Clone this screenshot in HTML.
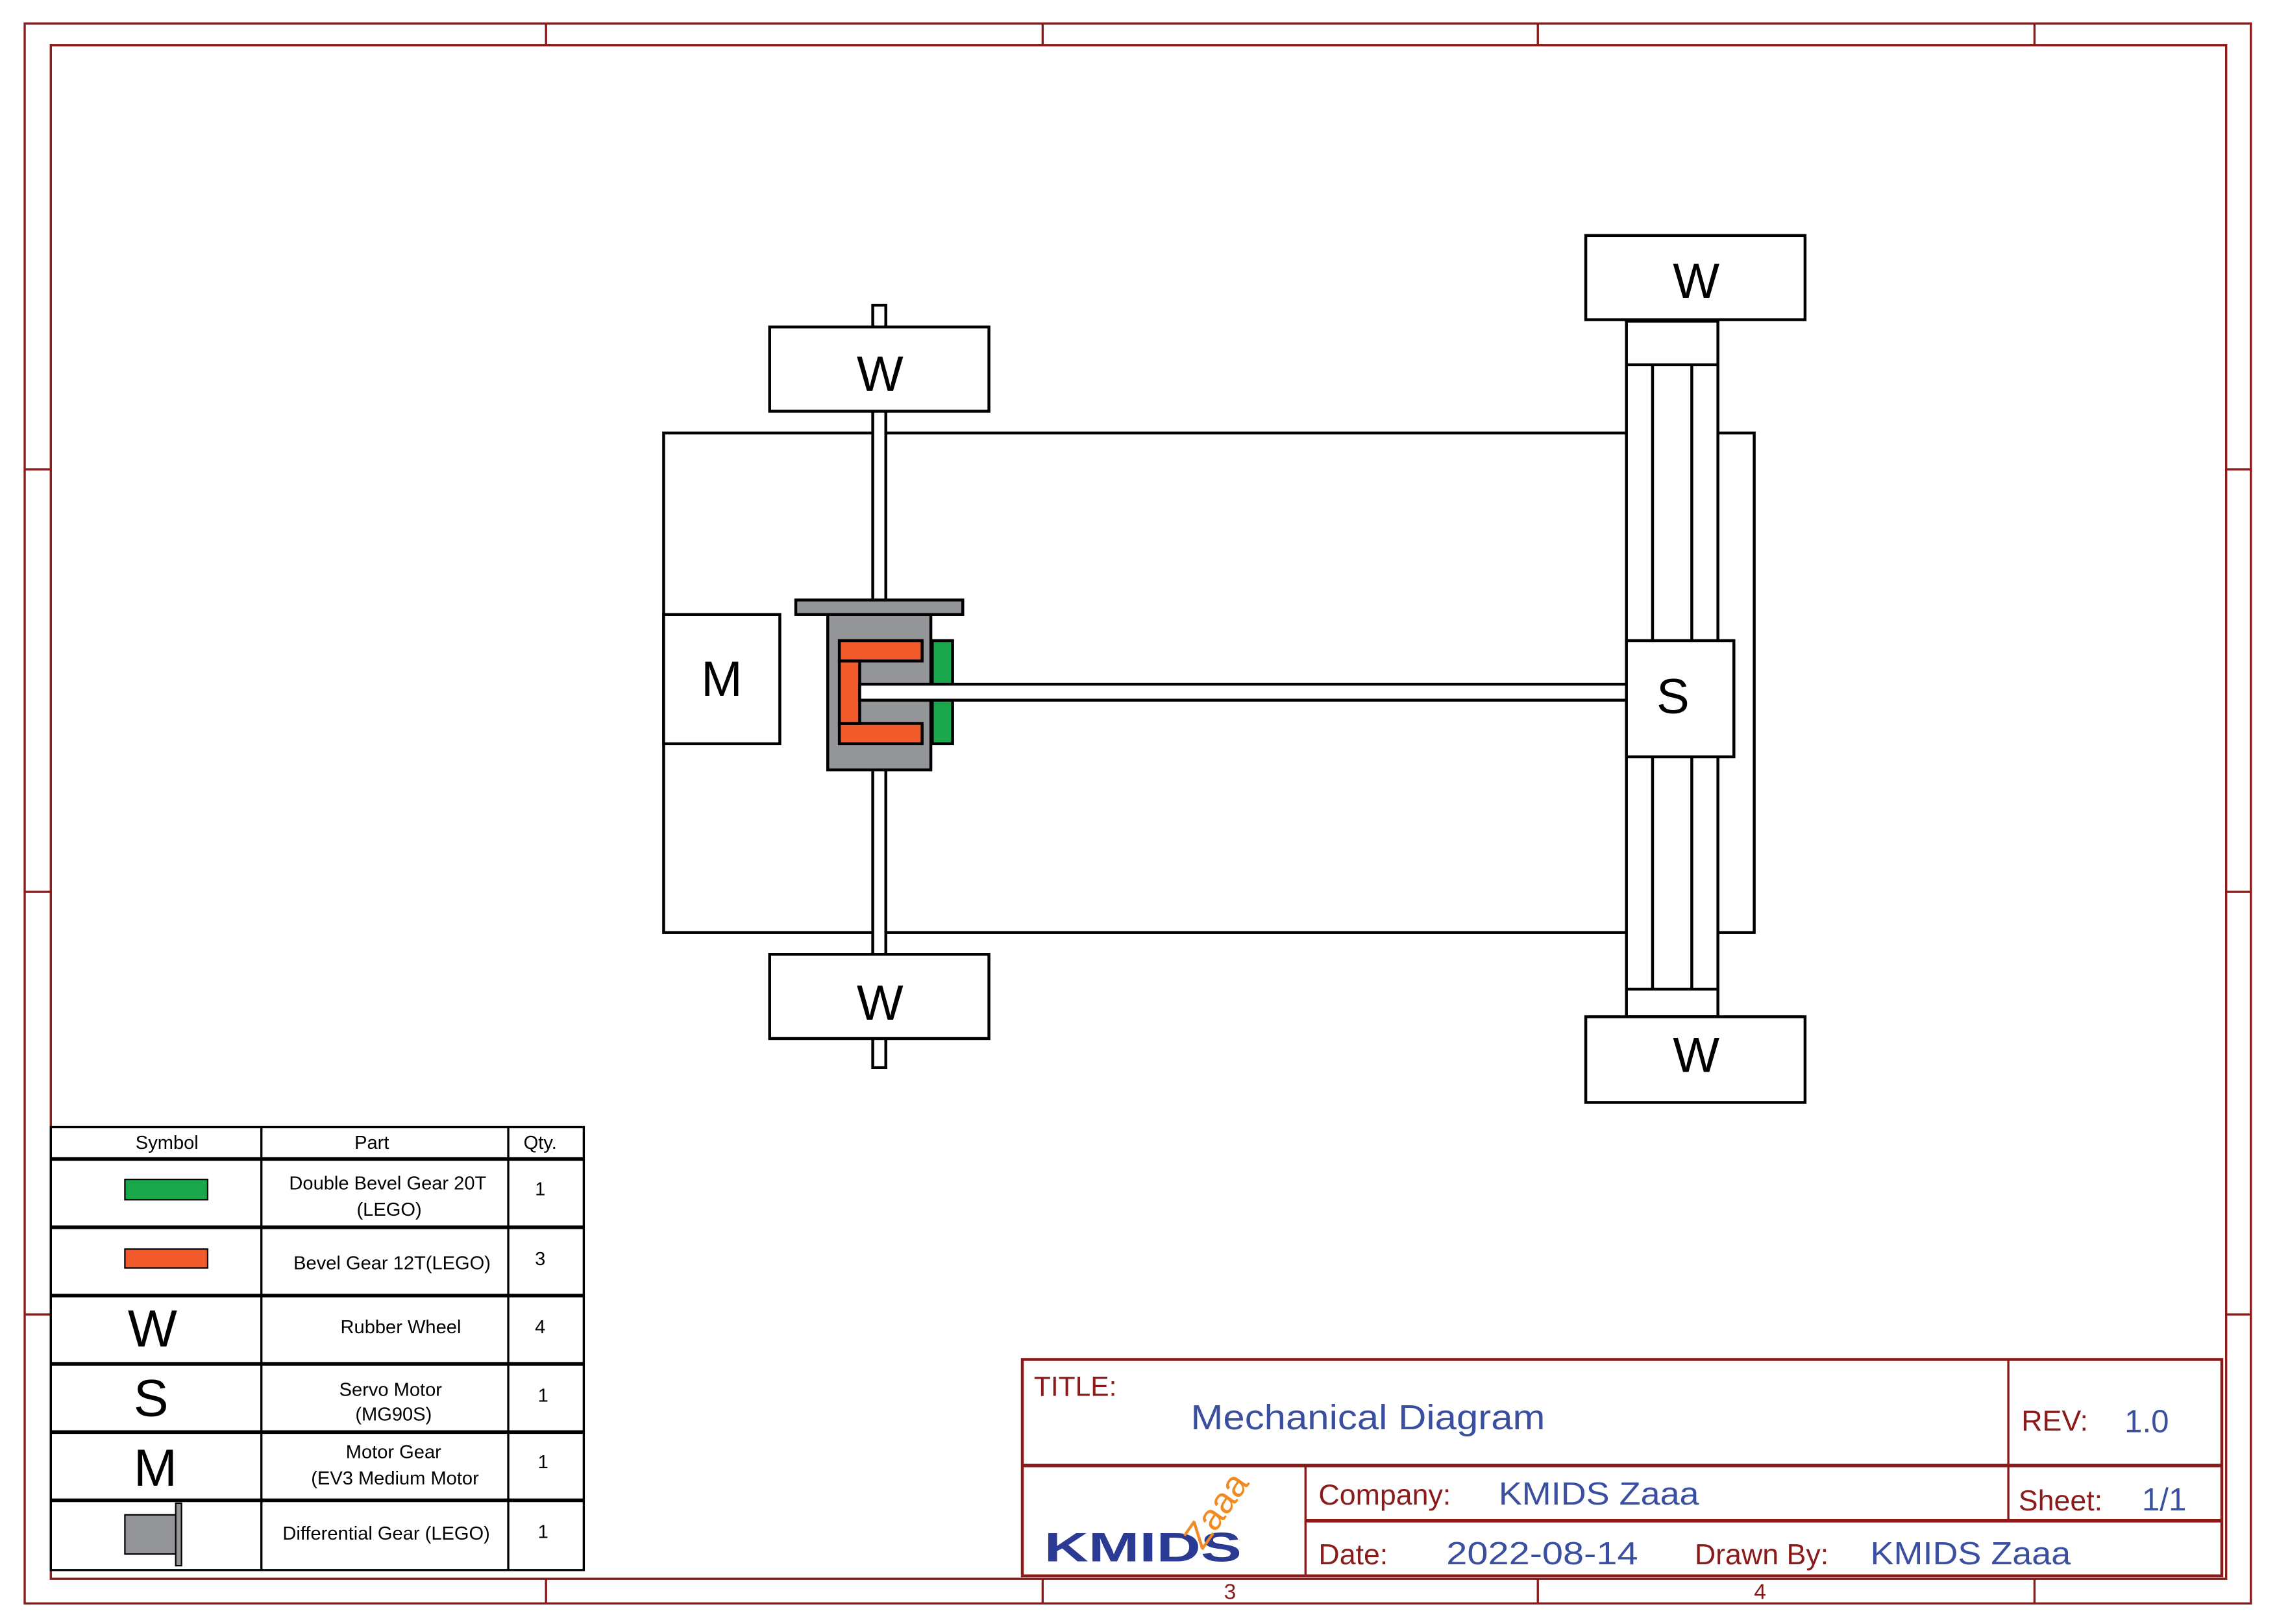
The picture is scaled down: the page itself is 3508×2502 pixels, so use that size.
<!DOCTYPE html>
<html><head><meta charset="utf-8"><style>
html,body{margin:0;padding:0;background:#fff;}
svg{display:block;}
text{font-family:"Liberation Sans",sans-serif;}
</style></head><body>
<svg width="3508" height="2502" viewBox="0 0 1568 1118" xmlns="http://www.w3.org/2000/svg">
<rect width="1568" height="1118" fill="#fff"/>
<g fill="none" stroke="#8b1a1a" stroke-width="1.5">
<rect x="17" y="16" width="1533" height="1088"/>
<rect x="35" y="31" width="1498" height="1056"/>
<path d="M376 16V31M718 16V31M1059 16V31M1401 16V31M376 1087V1104M718 1087V1104M1059 1087V1104M1401 1087V1104M17 323H35M17 614H35M17 905H35M1533 323H1550M1533 614H1550M1533 905H1550"/>
</g>
<text x="847" y="1101" font-size="15" fill="#8b1a1a" text-anchor="middle">3</text>
<text x="1212" y="1101" font-size="15" fill="#8b1a1a" text-anchor="middle">4</text>

<g stroke="#000" stroke-width="2" fill="#fff">
<rect x="457" y="298" width="751" height="344"/>
<rect x="601" y="210" width="9" height="525"/>
<rect x="530" y="225" width="151" height="58"/>
<rect x="530" y="657" width="151" height="58"/>
<rect x="457" y="423" width="80" height="89"/>
<rect x="548" y="413" width="115" height="10" fill="#939598"/>
<rect x="570" y="423" width="71" height="107" fill="#939598"/>
<rect x="642" y="441" width="14" height="71" fill="#1aa64a"/>
<rect x="578" y="441" width="57" height="14" fill="#f15a2b"/>
<rect x="578" y="498" width="57" height="14" fill="#f15a2b"/>
<rect x="578" y="455" width="14" height="43" fill="#f15a2b"/>
<rect x="592" y="471" width="530" height="11"/>
<rect x="1120" y="221" width="63" height="479"/>
<path d="M1120 251H1183M1120 681H1183M1138 251V681M1165 251V681" fill="none"/>
<rect x="1120" y="441" width="74" height="80"/>
<rect x="1092" y="162" width="151" height="58"/>
<rect x="1092" y="700" width="151" height="59"/>
</g>
<g font-size="34" text-anchor="middle" fill="#000">
<text x="606" y="269">W</text>
<text x="606" y="702">W</text>
<text x="1168" y="205">W</text>
<text x="1168" y="738">W</text>
<text x="497" y="479">M</text>
<text x="1152" y="491">S</text>
</g>

<g stroke="#000" fill="none">
<rect x="35" y="776" width="367" height="305" stroke-width="1.5"/>
<path d="M180 776V1081M350 776V1081" stroke-width="1.5"/>
<path d="M35 798H402M35 845H402M35 892H402M35 939H402M35 986H402M35 1033H402" stroke-width="2.5"/>
</g>
<rect x="86" y="812" width="57" height="14" fill="#1aa64a" stroke="#000"/>
<rect x="86" y="860" width="57" height="13" fill="#f15a2b" stroke="#000"/>
<rect x="86" y="1043" width="36" height="27" fill="#939598" stroke="#000"/>
<rect x="121" y="1035" width="4" height="43" fill="#939598" stroke="#000"/>
<g font-size="13" text-anchor="middle" fill="#000">
<text x="115" y="791">Symbol</text>
<text x="256" y="791">Part</text>
<text x="372" y="791">Qty.</text>
<text x="267" y="819">Double Bevel Gear 20T</text>
<text x="268" y="837">(LEGO)</text>
<text x="270" y="874">Bevel Gear 12T(LEGO)</text>
<text x="276" y="918">Rubber Wheel</text>
<text x="269" y="961">Servo  Motor</text>
<text x="271" y="978">(MG90S)</text>
<text x="271" y="1004">Motor Gear</text>
<text x="272" y="1022">(EV3 Medium Motor</text>
<text x="266" y="1060">Differential Gear (LEGO)</text>
<text x="372" y="823">1</text>
<text x="372" y="871">3</text>
<text x="372" y="918">4</text>
<text x="374" y="965">1</text>
<text x="374" y="1011">1</text>
<text x="374" y="1059">1</text>
</g>
<g font-size="36" text-anchor="middle" fill="#000">
<text x="105" y="927">W</text>
<text x="104" y="975">S</text>
<text x="107" y="1023">M</text>
</g>

<g stroke="#8b1a1a" fill="none">
<rect x="704" y="936" width="826" height="149" stroke-width="2"/>
<path d="M704 1009H1530" stroke-width="2.5"/>
<path d="M899 1047H1530" stroke-width="2.5"/>
<path d="M1383 936V1047M899 1009V1085" stroke-width="1.5"/>
</g>
<g font-size="19" fill="#8b1a1a">
<text x="712" y="961">TITLE:</text>
<text x="1392" y="985" font-size="20">REV:</text>
<text x="908" y="1036" font-size="20">Company:</text>
<text x="1390" y="1040" font-size="20">Sheet:</text>
<text x="908" y="1077" font-size="20">Date:</text>
<text x="1167" y="1077" font-size="20">Drawn By:</text>
</g>
<g fill="#3a4fa0" font-size="22">
<text x="820" y="984" font-size="24" textLength="244" lengthAdjust="spacingAndGlyphs">Mechanical Diagram</text>
<text x="1463" y="986">1.0</text>
<text x="1032" y="1036" textLength="138" lengthAdjust="spacingAndGlyphs">KMIDS Zaaa</text>
<text x="1475" y="1040">1/1</text>
<text x="996" y="1077" textLength="132" lengthAdjust="spacingAndGlyphs">2022-08-14</text>
<text x="1288" y="1077" textLength="138" lengthAdjust="spacingAndGlyphs">KMIDS Zaaa</text>
</g>
<text x="719" y="1075" font-size="28" font-weight="bold" fill="#2b3a92" textLength="136" lengthAdjust="spacingAndGlyphs">KMIDS</text>
<text x="828" y="1068" font-size="25" fill="#f18a20" transform="rotate(-55 828 1068)">Zaaa</text>
</svg>
</body></html>
